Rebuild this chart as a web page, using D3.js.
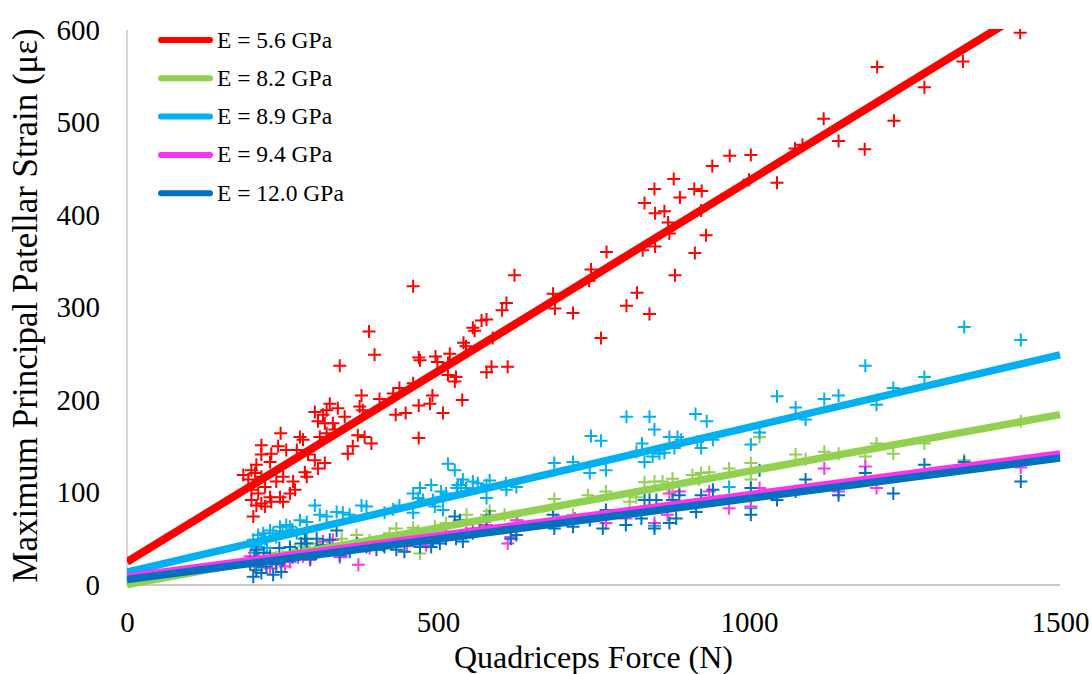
<!DOCTYPE html>
<html>
<head>
<meta charset="utf-8">
<script src="https://cdn.jsdelivr.net/npm/d3@7"></script>
<style>
  html, body { margin: 0; padding: 0; background: #fff; }
  svg { display: block; }
  .serif { font-family: "Liberation Serif", Tinos, "Times New Roman", Times, "DejaVu Serif", serif; fill: #000; }
</style>
</head>
<body>
<svg id="chart" width="1092" height="674"></svg>
<script>
// Patellar strain vs quadriceps force, one series per elastic modulus.
const seriesNames = ["E = 5.6 GPa", "E = 8.2 GPa", "E = 8.9 GPa", "E = 9.4 GPa", "E = 12.0 GPa"];
const seriesColors = ["#ff0000", "#92d050", "#00b0f0", "#ff33ee", "#0070c0"];

// Linear trend line of each series: strain = slope * force + intercept
const trendSlope = [0.412, 0.1225, 0.1565, 0.0885, 0.0875];
const trendIntercept = [25, 0.5, 14, 9, 6];

const xTicks = [0, 500, 1000, 1500];
const yTicks = [0, 100, 200, 300, 400, 500, 600];

// [force (N), strain (µε)]
const pointsE56 = [
  [187,119],[195,114],[200,124],[200,103],[200,92],[203,74],[206,121],[208,130],[208,86],[211,99],
  [216,151],[216,141],[216,117],[216,88],[222,106],[222,85],[230,133],[230,95],[232,142],[232,90],
  [240,112],[243,150],[246,95],[247,164],[251,117],[251,90],[256,146],[262,99],[267,112],[270,103],
  [273,146],[278,160],[283,157],[286,122],[289,117],[291,141],[302,187],[302,135],[307,177],[307,126],
  [310,160],[315,184],[318,175],[318,132],[321,189],[321,164],[326,196],[331,175],[334,168],[339,191],
  [342,237],[350,182],[355,142],[363,150],[371,162],[374,193],[377,205],[379,189],[382,160],[389,274],
  [393,153],[398,249],[406,201],[428,207],[432,184],[438,213],[448,186],[460,218],[460,323],[469,246],
  [469,194],[469,159],[471,243],[487,196],[491,205],[496,247],[499,241],[508,186],[516,240],[516,227],
  [519,250],[527,220],[529,225],[539,200],[541,262],[545,258],[556,278],[559,275],[570,286],[578,287],
  [578,230],[586,236],[588,267],[603,297],[610,305],[612,236],[623,335],[685,315],[688,299],[717,294],
  [743,329],[746,341],[762,267],[771,360],[803,302],[820,316],[829,362],[832,413],[840,293],[848,428],
  [849,366],[849,402],[864,404],[870,392],[872,380],[879,439],[881,335],[889,419],[912,428],[913,359],
  [923,405],[924,426],[931,378],[941,453],[969,464],[1000,438],[1003,465],[1045,435],[1074,472],[1086,476],
  [1120,504],[1144,480],[1186,471],[1206,560],[1233,502],[1282,538],[1344,566],[1436,597]
];
const pointsE82 = [
  [205,22],[210,30],[218,26],[230,35],[240,30],[250,33],[262,36],[270,38],[285,42],[290,40],
  [305,45],[310,42],[330,45],[345,50],[369,54],[390,48],[422,56],[433,61],[460,62],[468,58],
  [471,34],[495,63],[500,59],[513,67],[535,70],[546,76],[578,76],[583,80],[607,76],[628,70],
  [687,93],[717,76],[741,97],[770,101],[808,90],[819,95],[832,111],[848,112],[861,112],[877,115],
  [877,101],[909,119],[920,114],[923,121],[936,122],[968,126],[1003,132],[1003,114],[1017,160],[1075,141],
  [1091,136],[1121,144],[1144,142],[1187,139],[1205,153],[1232,142],[1282,153],[1346,135],[1437,177]
];
const pointsE89 = [
  [200,43],[205,35],[208,41],[203,49],[212,45],[216,49],[211,54],[219,56],[222,50],[225,40],
  [230,59],[235,56],[240,52],[246,63],[250,58],[256,65],[262,63],[266,60],[273,56],[278,70],
  [289,68],[289,59],[302,86],[310,76],[321,74],[337,79],[347,78],[358,76],[377,86],[385,85],
  [414,78],[428,82],[438,86],[460,99],[460,78],[468,94],[471,105],[476,92],[489,108],[492,92],
  [495,85],[505,101],[508,95],[508,81],[513,99],[516,131],[527,124],[530,105],[532,108],[537,108],
  [540,114],[545,105],[556,112],[564,110],[578,108],[578,94],[583,113],[609,110],[610,103],[626,106],
  [687,132],[717,133],[744,121],[746,161],[762,156],[770,124],[803,182],[819,144],[828,153],[832,133],
  [840,182],[845,139],[848,168],[848,64],[856,142],[864,143],[872,160],[880,148],[885,160],[891,157],
  [914,185],[917,155],[923,148],[932,177],[942,157],[968,106],[1003,152],[1003,83],[1017,165],[1045,204],
  [1075,192],[1091,179],[1121,201],[1144,205],[1187,237],[1205,195],[1232,213],[1282,225],[1346,279],[1437,265]
];
const pointsE94 = [
  [198,31],[205,20],[212,28],[219,25],[230,18],[240,22],[254,20],[262,25],[275,30],[283,31],
  [294,27],[305,35],[315,47],[331,49],[342,30],[353,36],[372,22],[390,40],[410,45],[430,50],
  [450,42],[481,43],[492,49],[503,50],[513,56],[545,56],[556,61],[567,59],[578,65],[612,45],
  [617,52],[626,70],[690,70],[720,72],[770,67],[802,72],[848,67],[869,76],[872,99],[888,101],
  [936,101],[968,83],[1003,85],[1017,105],[1121,126],[1144,101],[1187,128],[1205,105],[1346,130],[1437,127]
];
const pointsE120 = [
  [198,23],[203,9],[205,30],[208,38],[208,16],[212,25],[216,13],[220,35],[224,20],[230,31],
  [235,11],[240,23],[245,40],[248,14],[251,27],[262,41],[266,30],[273,34],[280,45],[286,50],
  [289,45],[295,28],[305,38],[305,50],[315,43],[326,49],[337,59],[342,32],[358,36],[370,45],
  [385,41],[401,38],[412,43],[414,41],[433,38],[446,36],[460,49],[471,41],[489,41],[492,49],
  [503,45],[513,50],[527,74],[529,50],[535,70],[540,47],[556,56],[567,59],[578,70],[583,74],
  [617,50],[626,54],[685,76],[687,61],[717,63],[744,70],[765,61],[770,81],[802,65],[827,72],
  [832,92],[840,92],[848,61],[851,92],[872,67],[877,92],[883,72],[888,97],[915,79],[923,97],
  [942,103],[1003,105],[1003,76],[1017,124],[1045,92],[1075,101],[1091,114],[1144,97],[1187,121],[1232,99],
  [1282,130],[1346,133],[1437,112]
];
const seriesPoints = [pointsE56, pointsE82, pointsE89, pointsE94, pointsE120];

const svg = d3.select("#chart");
const plot = { left: 127, right: 1060, top: 30, bottom: 585 };

const x = d3.scaleLinear().domain([0, 1500]).range([plot.left, plot.right]);
const y = d3.scaleLinear().domain([0, 600]).range([plot.bottom, plot.top]);

svg.append("defs").append("clipPath").attr("id", "plotClip")
  .append("rect")
  .attr("x", plot.left).attr("y", plot.top - 1)
  .attr("width", plot.right - plot.left + 2)
  .attr("height", plot.bottom - plot.top + 6);

// Axis lines
svg.append("line")
  .attr("x1", plot.left).attr("x2", plot.left)
  .attr("y1", plot.top).attr("y2", plot.bottom)
  .attr("stroke", "#c8c8c8").attr("stroke-width", 1.5);
svg.append("line")
  .attr("x1", plot.left).attr("x2", plot.right)
  .attr("y1", plot.bottom).attr("y2", plot.bottom)
  .attr("stroke", "#c8c8c8").attr("stroke-width", 2);

// Tick labels via d3 axes (lines hidden)
const yAxis = svg.append("g")
  .attr("transform", `translate(${plot.left},0)`)
  .call(d3.axisLeft(y).tickValues(yTicks).tickFormat(d3.format("d")).tickSize(0).tickPadding(27));
const xAxis = svg.append("g")
  .attr("transform", `translate(0,${plot.bottom})`)
  .call(d3.axisBottom(x).tickValues(xTicks).tickFormat(d3.format("d")).tickSize(0).tickPadding(26));
[yAxis, xAxis].forEach(g => {
  g.attr("font-family", null).attr("font-size", null);
  g.select(".domain").remove();
  g.selectAll("text")
    .attr("class", "serif")
    .style("font-size", "29px")
    .attr("fill", "#000");
});

// Markers
const plusPath = "M-6.5,0H6.5M0,-6.5V6.5";
const markers = svg.append("g").attr("clip-path", "url(#plotClip)");
seriesPoints.forEach((pts, i) => {
  markers.append("g")
    .selectAll("path")
    .data(pts)
    .join("path")
    .attr("d", plusPath)
    .attr("transform", d => `translate(${x(d[0])},${y(d[1])})`)
    .attr("fill", "none")
    .attr("stroke", seriesColors[i])
    .attr("stroke-width", 2);
});

// Trend lines
const trends = svg.append("g").attr("clip-path", "url(#plotClip)");
const line = d3.line().x(d => x(d[0])).y(d => y(d[1]));
seriesNames.forEach((name, i) => {
  const pts = [0, 1500].map(f => [f, trendSlope[i] * f + trendIntercept[i]]);
  trends.append("path")
    .attr("d", line(pts))
    .attr("fill", "none")
    .attr("stroke", seriesColors[i])
    .attr("stroke-width", i === 0 ? 8 : 7.5);
});

// Legend
const legend = svg.append("g").attr("transform", "translate(158,40)");
seriesNames.forEach((name, i) => {
  const row = legend.append("g").attr("transform", `translate(0,${i * 38.3})`);
  row.append("line")
    .attr("x1", 3).attr("x2", 52).attr("y1", 0).attr("y2", 0)
    .attr("stroke", seriesColors[i]).attr("stroke-width", 6)
    .attr("stroke-linecap", "round");
  row.append("text")
    .attr("class", "serif")
    .attr("x", 59).attr("y", 7.5)
    .style("font-size", "23.5px")
    .text(name);
});

// Axis titles
svg.append("text")
  .attr("class", "serif")
  .attr("x", (plot.left + plot.right) / 2)
  .attr("y", 668)
  .attr("text-anchor", "middle")
  .style("font-size", "32px")
  .text("Quadriceps Force (N)");
svg.append("text")
  .attr("class", "serif")
  .attr("transform", `translate(37,${(plot.top + plot.bottom) / 2 - 2}) rotate(-90)`)
  .attr("text-anchor", "middle")
  .style("font-size", "35px")
  .text("Maximum Principal Patellar Strain (με)");
</script>
</body>
</html>
